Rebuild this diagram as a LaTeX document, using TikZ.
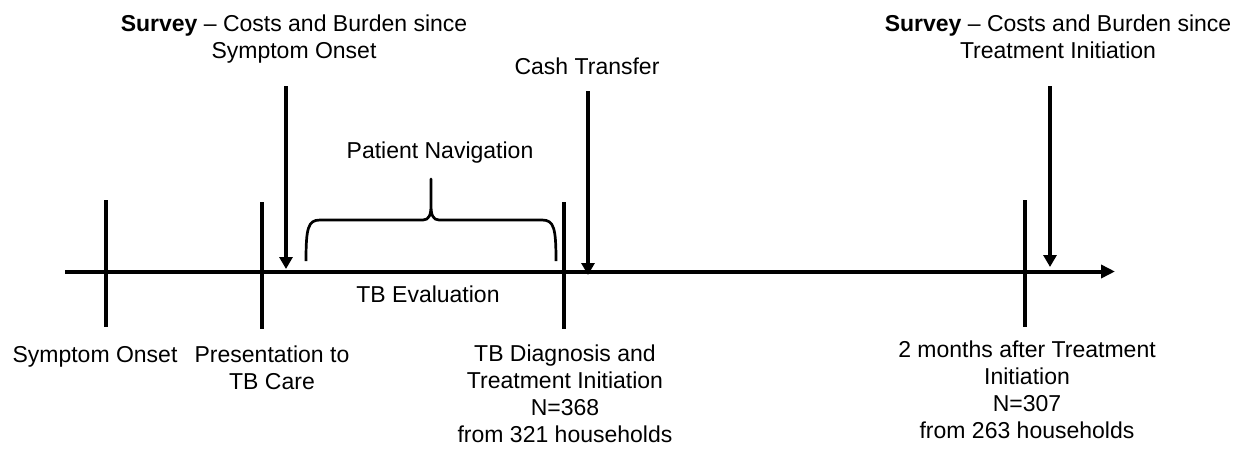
\documentclass[tikz,border=0pt]{standalone}
\usepackage{fontspec}
\setmainfont{Liberation Sans}
\usetikzlibrary{arrows.meta}
\begin{document}
\begin{tikzpicture}[x=1pt,y=-1pt,
  lbl/.style={anchor=base,align=center,inner sep=0pt,font=\fontsize{23}{27}\selectfont},
  axisline/.style={line width=4pt,-{Triangle[length=14pt,width=13pt]}},
  tickline/.style={line width=4pt},
  downarrow/.style={line width=4pt,-{Triangle[length=12pt,width=13pt]}},
  bracestyle/.style={line width=2.7pt,line join=round}]
\useasboundingbox (0,0) rectangle (1235,448);
% axis
\coordinate (ax0) at (65,271.5);
\coordinate (ax1) at (1115,271.5);
\draw[axisline] (ax0) -- (ax1);
% ticks
\coordinate (t1a) at (106,200); \coordinate (t1b) at (106,327);
\coordinate (t2a) at (262,202); \coordinate (t2b) at (262,329);
\coordinate (t3a) at (564,202); \coordinate (t3b) at (564,329);
\coordinate (t4a) at (1025,200); \coordinate (t4b) at (1025,327);
\draw[tickline] (t1a) -- (t1b);
\draw[tickline] (t2a) -- (t2b);
\draw[tickline] (t3a) -- (t3b);
\draw[tickline] (t4a) -- (t4b);
% survey / transfer arrows
\coordinate (a1a) at (286,86); \coordinate (a1b) at (286,269);
\coordinate (a2a) at (588,91); \coordinate (a2b) at (588,275);
\coordinate (a3a) at (1050,86); \coordinate (a3b) at (1050,267);
\draw[downarrow] (a1a) -- (a1b);
\draw[downarrow] (a2a) -- (a2b);
\draw[downarrow] (a3a) -- (a3b);
% brace
\coordinate (bl) at (306,261);
\coordinate (bt) at (431,179);
\coordinate (br) at (556,261);
\draw[bracestyle] (bl) .. controls (306,228) and (308,220) .. (320,220) -- (423,220)
  .. controls (429,220) and (431,215) .. (431,205) -- (bt) -- (431,205)
  .. controls (431,215) and (433,220) .. (439,220) -- (542,220)
  .. controls (554,220) and (556,228) .. (br);
% labels (base anchor = baseline of the last line)
\node[lbl] (survey1) at (294,58) {\textbf{Survey} -- Costs and Burden since\\Symptom Onset};
\node[lbl] (survey2) at (1058,58) {\textbf{Survey} -- Costs and Burden since\\Treatment Initiation};
\node[lbl] (cash) at (587,74) {Cash Transfer};
\node[lbl] (patnav) at (440,158) {Patient Navigation};
\node[lbl] (tbeval) at (428,302) {TB Evaluation};
\node[lbl] (onset) at (95,362) {Symptom Onset};
\node[lbl] (present) at (272,389) {Presentation to\\TB Care};
\node[lbl] (diag) at (565,442) {TB Diagnosis and\\Treatment Initiation\\N=368\\from 321 households};
\node[lbl] (twomonths) at (1027,438) {2 months after Treatment\\Initiation\\N=307\\from 263 households};
\end{tikzpicture}
\end{document}
